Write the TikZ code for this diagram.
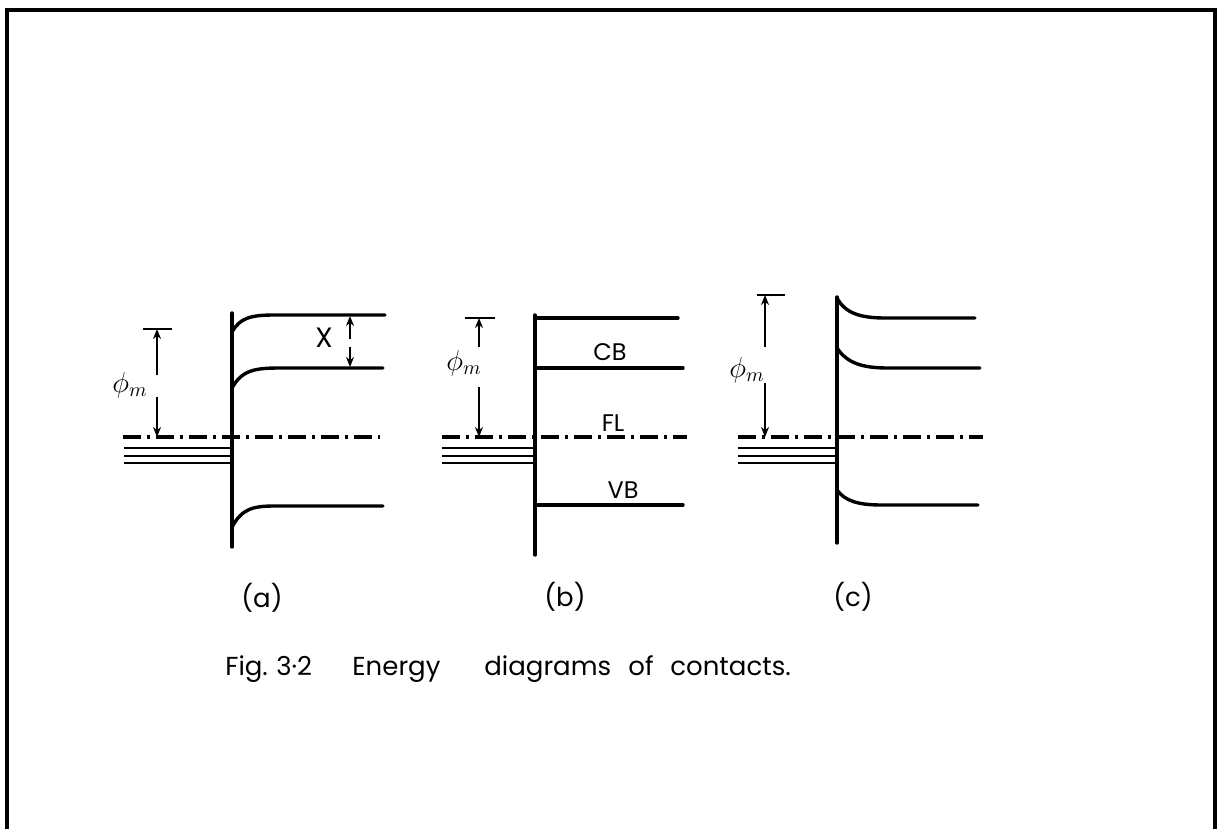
\documentclass[tikz,border=0pt]{standalone}
\usepackage{fontspec}
\setmainfont{Poppins}
\usetikzlibrary{arrows.meta}
\begin{document}
\begin{tikzpicture}[x=0.5pt,y=-0.5pt,
  band/.style={line width=1.7pt,line cap=round},
  wall/.style={line width=1.7pt,line cap=round},
  metal/.style={line width=1pt},
  fermi/.style={line width=1.7pt,dash pattern=on 9pt off 3pt on 1.5pt off 3pt},
  dim/.style={line width=1.2pt,-{Stealth[length=5pt,width=4pt]}},
  bar/.style={line width=1.4pt},
  lbl/.style={inner sep=0pt,font=\fontsize{12}{14}\selectfont},
  sub/.style={inner sep=0pt,font=\fontsize{13}{15}\selectfont},
  captxt/.style={inner sep=0pt,anchor=base west,font=\fontsize{13}{15}\selectfont},
  phil/.style={inner sep=0pt,font=\Large}]
\useasboundingbox (0,0) rectangle (1226,829);
% frame
\draw[line width=2pt] (7,829) -- (7,10) -- (1215,10) -- (1215,829);

% ---------- (a) ----------
\draw[wall] (232,313) -- (232,547);
\draw[band] (232,332) .. controls (240,318) and (250,315) .. (275,315) -- (385,315);
\draw[band] (232,388) .. controls (242,370) and (255,368) .. (280,368) -- (383,368);
\draw[band] (232,527) .. controls (242,509) and (252,506) .. (275,506) -- (383,506);
\draw[fermi] (123,437) -- (380,437);
\foreach \y in {448,456,463} \draw[metal] (124,\y) -- (231,\y);
\draw[bar] (143,329) -- (172,329);
\coordinate (aT) at (157,329);
\coordinate (aB) at (157,437);
\node[phil] (aphi) at (130,385) {$\phi_{m}$};
\coordinate (aU) at (157,375);
\coordinate (aD) at (157,397);
\draw[dim] (aU) -- (aT);
\draw[dim] (aD) -- (aB);
\node[lbl,font=\fontsize{14}{16}\selectfont] (chi) at (324,338) {X};
\coordinate (cT) at (350,316);
\coordinate (cB) at (350,367);
\draw[dim] (350,339) -- (cT);
\draw[dim] (350,347) -- (cB);
\node[sub] (la) at (262,598) {(a)};

% ---------- (b) ----------
\draw[wall] (535,315) -- (535,555);
\draw[band] (535,318) -- (678,318);
\draw[band] (535,368) -- (683,368);
\draw[band] (535,505) -- (683,505);
\draw[fermi] (442,437) -- (687,437);
\foreach \y in {448,456,463} \draw[metal] (442,\y) -- (534,\y);
\node[lbl] (cb) at (610,352) {CB};
\node[lbl] (fl) at (613,423) {FL};
\node[lbl] (vb) at (623,490) {VB};
\draw[bar] (465,318) -- (495,318);
\coordinate (bT) at (479,318);
\coordinate (bB) at (479,437);
\node[phil] (bphi) at (464,363) {$\phi_{m}$};
\draw[dim] (479,347) -- (bT);
\draw[dim] (479,387) -- (bB);
\node[sub] (lb) at (565,597) {(b)};

% ---------- (c) ----------
\draw[wall] (837,297) -- (837,543);
\draw[band] (837,298) .. controls (845,313) and (860,318) .. (885,318) -- (975,318);
\draw[band] (837,348) .. controls (847,363) and (862,368) .. (888,368) -- (980,368);
\draw[band] (837,490) .. controls (845,501) and (858,505) .. (882,505) -- (978,505);
\draw[fermi] (738,437) -- (983,437);
\foreach \y in {448,456,463} \draw[metal] (738,\y) -- (836,\y);
\draw[bar] (757,295) -- (785,295);
\coordinate (dT) at (765,295);
\coordinate (dB) at (765,437);
\node[phil] (cphi) at (747,370) {$\phi_{m}$};
\draw[dim] (765,347) -- (dT);
\draw[dim] (765,383) -- (dB);
\node[sub] (lc) at (853,597) {(c)};

% ---------- caption ----------
\node[captxt] (f1) at (225,675) {Fig.};
\node[captxt] (f2) at (276,675) {3·2};
\node[captxt] (f3) at (352,675) {Energy};
\node[captxt] (f4) at (484,675) {diagrams};
\node[captxt] (f5) at (628,675) {of};
\node[captxt] (f6) at (670,675) {contacts.};
\end{tikzpicture}
\end{document}
